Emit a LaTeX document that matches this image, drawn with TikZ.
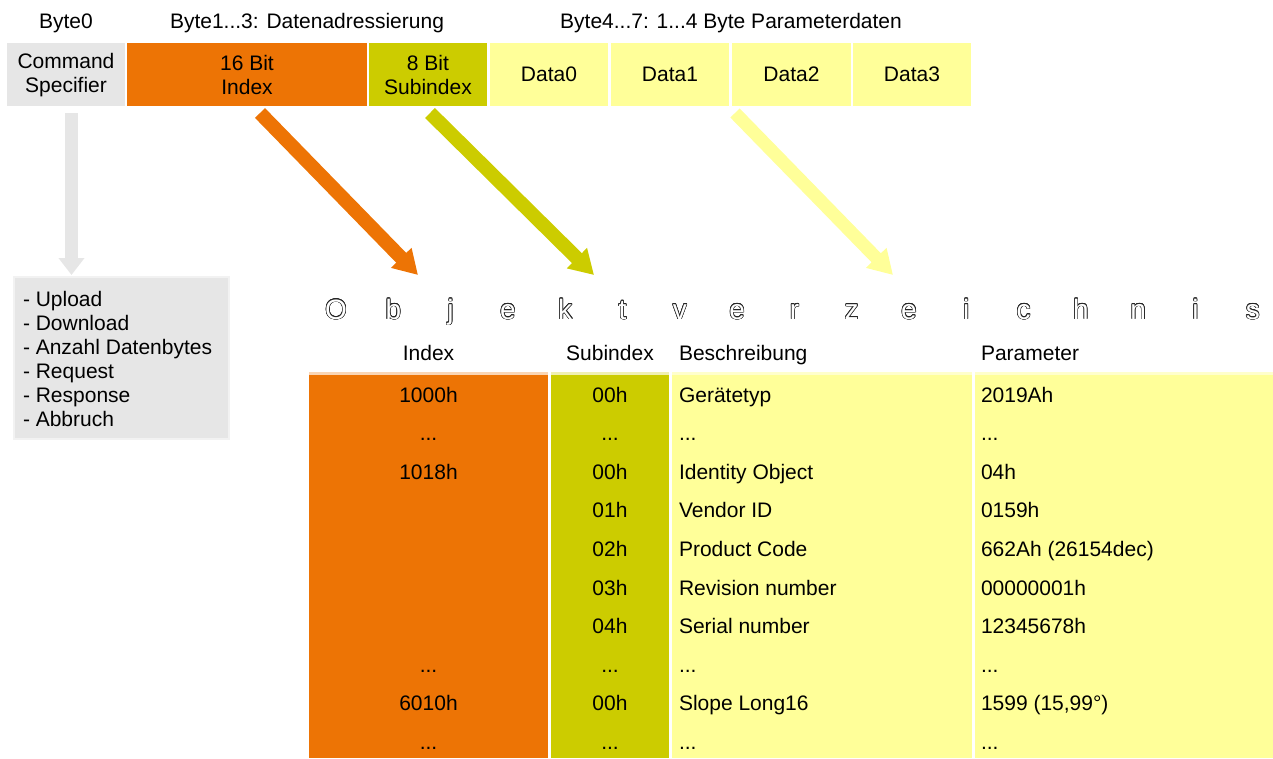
\documentclass[tikz,border=0pt]{standalone}
\usepackage{fontspec}
\setmainfont{Liberation Sans}
\usetikzlibrary{arrows.meta}
\definecolor{cOrange}{RGB}{237,116,5}
\definecolor{cGreen}{RGB}{204,204,0}
\definecolor{cYellow}{RGB}{255,255,153}
\definecolor{cGray}{RGB}{230,230,230}
\definecolor{cGrayEdge}{RGB}{242,242,242}
\newcommand\tdots{...}
\begin{document}
\begin{tikzpicture}[x=1pt,y=-1pt,
  every node/.style={font=\fontsize{21}{24}\selectfont, inner sep=0pt, outer sep=0pt},
  field/.style={minimum width=#1, minimum height=63pt, align=center},
  column/.style={minimum width=#1, minimum height=383pt},
  bigarr/.style={line width=14pt, -{Triangle[length=24pt,width=27pt]}},
  grayarr/.style={line width=13pt, draw=cGray, -{Triangle[length=17pt,width=25pt]}},
  outl/.style={anchor=base, font=\fontsize{28}{30}\selectfont},
  hdr/.style={anchor=base},
]
\useasboundingbox (0,0) rectangle (1273,758);

% header labels
\node[hdr] (h0) at (66,28) {Byte0};
\node[hdr] (h1) at (307,28) {Byte1...3: Datenadressierung};
\node[hdr] (h2) at (731,28) {Byte4...7: 1...4 Byte Parameterdaten};

% telegram fields
\node[field=118pt, fill=cGray]   (cmd) at (66,74.5)   {\rule{0pt}{16pt}Command\\Specifier};
\node[field=240pt, fill=cOrange] (idx) at (247,74.5)  {16 Bit\\Index};
\node[field=118pt, fill=cGreen]  (sub) at (428,74.5)  {8 Bit\\Subindex};
\node[field=118pt, fill=cYellow] (d0)  at (549,74.5)  {Data0};
\node[field=118pt, fill=cYellow] (d1)  at (670,74.5)  {Data1};
\node[field=119pt, fill=cYellow] (d2)  at (791.5,74.5){Data2};
\node[field=118pt, fill=cYellow] (d3)  at (912,74.5)  {Data3};

% command list box
\node[fill=cGray, draw=cGrayEdge, line width=1.5pt, minimum width=215pt, minimum height=162pt, anchor=north west] (ops) at (14,277) {};
\node[anchor=north west, align=left] (opstext) at (23,291.5)
  {- Upload\\- Download\\- Anzahl Datenbytes\\- Request\\- Response\\- Abbruch};

% arrows
\coordinate (gA) at (71.5,113);  \coordinate (gB) at (71.5,275);
\coordinate (oA) at (260,113);   \coordinate (oB) at (418,275);
\coordinate (sA) at (430,113);   \coordinate (sB) at (594,275);
\coordinate (yA) at (735,113);   \coordinate (yB) at (893,275);
\draw[grayarr] (gA) -- (gB);
\draw[bigarr, draw=cOrange, fill=cOrange] (oA) -- (oB);
\draw[bigarr, draw=cGreen, fill=cGreen] (sA) -- (sB);
\draw[bigarr, line width=13pt, draw=cYellow, fill=cYellow] (yA) -- (yB);

% outlined title
\foreach \ch [count=\k from 0] in {O,b,j,e,k,t,v,e,r,z,e,i,c,h,n,i,s} {
  \pgfmathsetmacro\xx{336+57.3*\k}
  \foreach \a in {0,22.5,...,340}
    \node[outl, text=black!85] (ob\k-\a) at ([shift={(\a:0.6pt)}]\xx,319) {\ch};
  \node[outl, text=white] (ov\k) at (\xx,319) {\ch};
}

% table header
\node[hdr] (thIdx) at (428.5,360) {Index};
\node[hdr] (thSub) at (610,360) {Subindex};
\node[hdr, anchor=base west] (thDesc) at (679,360) {Beschreibung};
\node[hdr, anchor=base west] (thPar) at (981,360) {Parameter};

% table columns
\fill[cOrange!30] (309,372) rectangle (548,374.5);
\fill[cGreen!30] (551,372) rectangle (669,374.5);
\fill[cYellow!50] (672,372) rectangle (972,374.5);
\fill[cYellow!50] (975,372) rectangle (1273,374.5);
\node[column=239pt, fill=cOrange] (cIdx)  at (428.5,566.5) {};
\node[column=118pt, fill=cGreen]  (cSub)  at (610,566.5) {};
\node[column=300pt, fill=cYellow] (cDesc) at (822,566.5) {};
\node[column=298pt, fill=cYellow] (cPar)  at (1124,566.5) {};

\newcommand\tblrow[6]{%
  \node[anchor=base] (#1i) at (428.5,#2) {#3};
  \node[anchor=base] (#1s) at (610,#2) {#4};
  \node[anchor=base west] (#1d) at (679,#2) {#5};
  \node[anchor=base west] (#1p) at (981,#2) {#6};
}
\tblrow{ra}{402}{1000h}{00h}{Gerätetyp}{2019Ah}
\tblrow{rb}{440.6}{\tdots}{\tdots}{\tdots}{\tdots}
\tblrow{rc}{479.2}{1018h}{00h}{Identity Object}{04h}
\tblrow{rd}{517.8}{}{01h}{Vendor ID}{0159h}
\tblrow{re}{556.4}{}{02h}{Product Code}{662Ah (26154dec)}
\tblrow{rf}{595}{}{03h}{Revision number}{00000001h}
\tblrow{rg}{633.6}{}{04h}{Serial number}{12345678h}
\tblrow{rh}{672.2}{\tdots}{\tdots}{\tdots}{\tdots}
\tblrow{ri}{710.8}{6010h}{00h}{Slope Long16}{1599 (15,99°)}
\tblrow{rj}{749.4}{\tdots}{\tdots}{\tdots}{\tdots}
\end{tikzpicture}
\end{document}
